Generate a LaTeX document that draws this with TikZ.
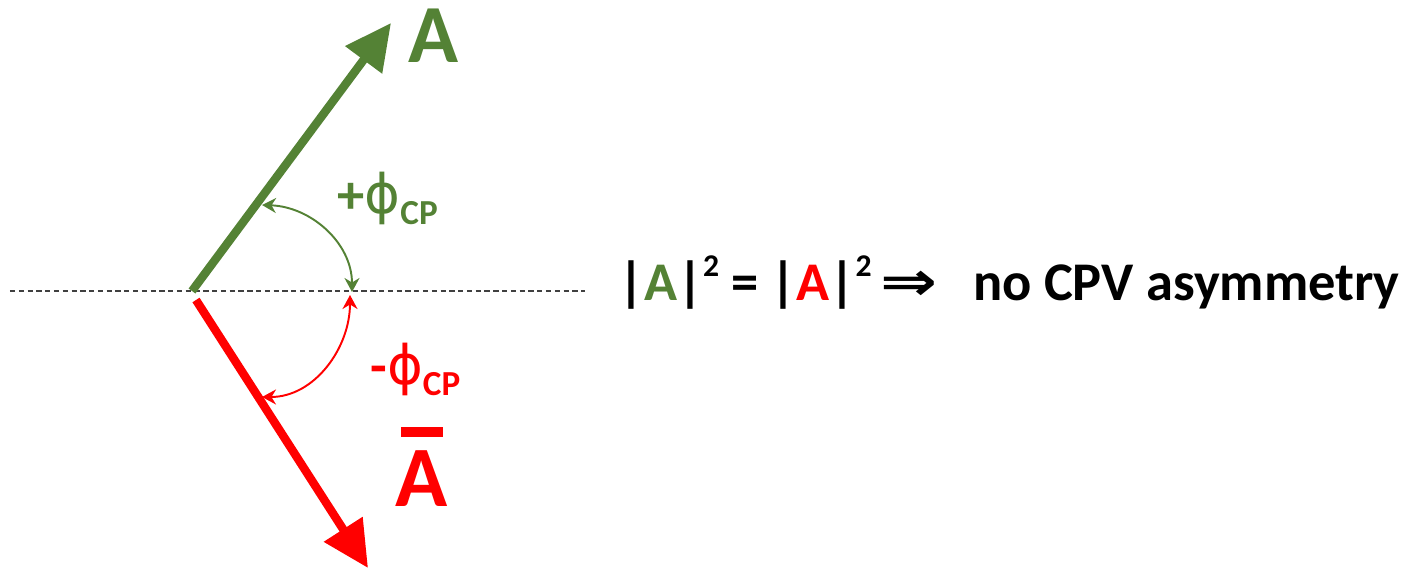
\documentclass[tikz,border=0pt]{standalone}
\usepackage{fontspec}
\setmainfont{Carlito}
\newfontfamily\symfont{DejaVu Sans}
\usetikzlibrary{arrows.meta}
\definecolor{ampgreen}{RGB}{84,130,53}
\definecolor{ampred}{RGB}{255,0,0}
% bar over a letter, keeps the letter's baseline
\newcommand{\barletter}[1]{\setbox0\hbox{#1}\vbox{\offinterlineskip\hbox to\wd0{\hss\vrule width0.8\wd0 height0.12em depth0pt\hss}\kern0.16em\box0}}

\begin{document}
\begin{tikzpicture}[>=Stealth,
  amp/.style={line width=4.8pt, -{Triangle[length=0.92cm,width=0.88cm]}},
  phase/.style={line width=1.1pt, {Stealth[length=0.28cm,width=0.3cm]}-{Stealth[length=0.28cm,width=0.3cm]}},
  lbl/.style={inner sep=0pt, anchor=base west}]
  \useasboundingbox (-3.84,-5.56) rectangle (24.28,5.82);
  % horizontal reference line
  \coordinate (axL) at (-3.64,0);
  \coordinate (axR) at (7.86,0);
  \draw[dashed, dash pattern=on 3pt off 2pt, line width=0.6pt, black!75] (axL) -- (axR);
  % amplitude A and its CP conjugate
  \coordinate (O) at (0,0);
  \coordinate (Atip) at (3.98,5.36);
  \coordinate (Ob) at (0.08,-0.18);
  \coordinate (Abtip) at (3.52,-5.54);
  \draw[amp, ampgreen] (O) -- (Atip);
  \draw[amp, ampred] (Ob) -- (Abtip);
  % weak phases
  \coordinate (gA) at (1.4,1.72);
  \coordinate (gX) at (3.2,-0.02);
  \coordinate (rX) at (3.16,-0.08);
  \coordinate (rA) at (1.4,-2.12);
  \draw[phase, ampgreen] (gA) to[out=-2,in=90] (gX);
  \draw[phase, ampred] (rX) to[out=-90,in=0] (rA);
  % labels
  \node[lbl, ampgreen, font=\bfseries\fontsize{47}{55}\selectfont] (labA) at (4.32,4.56) {A};
  \node[inner sep=0pt, anchor=base, ampred, font=\bfseries\fontsize{49}{55}\selectfont] (labAb) at (4.6,-4.32) {\barletter{A}};
  \node[lbl, ampgreen, font=\bfseries\fontsize{31}{36}\selectfont] (phiP) at (2.9,1.54)
    {+{\symfont\mdseries ϕ}\raisebox{-0.2em}{\fontsize{20}{24}\selectfont CP}};
  \node[lbl, ampred, font=\bfseries\fontsize{31}{36}\selectfont] (phiM) at (3.56,-1.88)
    {-{\symfont\mdseries ϕ}\raisebox{-0.2em}{\fontsize{20}{24}\selectfont CP}};
  % statement
  \node[lbl, font=\bfseries\fontsize{31}{36}\selectfont] (eq) at (8.52,-0.2)
    {|{\color{ampgreen}A}|\raisebox{0.45em}{\fontsize{18}{20}\selectfont 2} = |{\color{ampred}A}|\raisebox{0.45em}{\fontsize{18}{20}\selectfont 2}\,{\symfont\scalebox{1.25}[1]{⇒}}\hspace{0.65em}no CPV asymmetry};
\end{tikzpicture}
\end{document}
